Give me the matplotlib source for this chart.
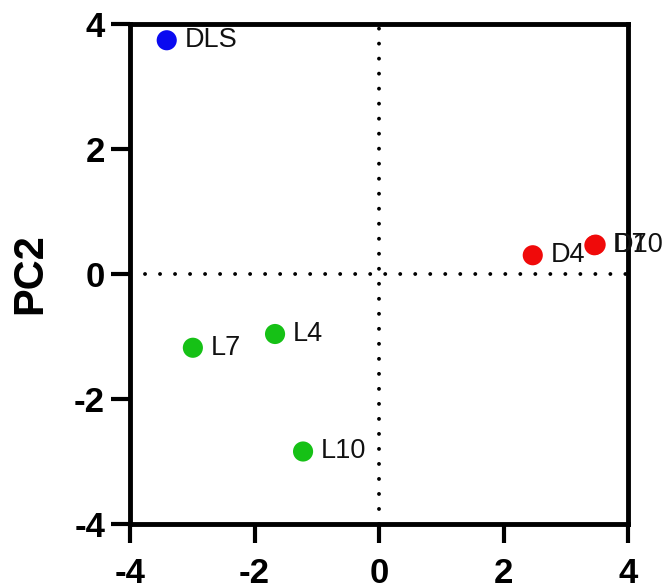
import matplotlib
matplotlib.use("Agg")
import matplotlib.pyplot as plt

plt.rcParams["font.family"] = ["Liberation Sans", "DejaVu Sans"]

# PCA scores
labels = ["DLS", "D4", "D7", "D10", "L7", "L4", "L10"]
pc1 = [-3.41, 2.47, 3.46, 3.48, -2.99, -1.67, -1.22]
pc2 = [3.74, 0.30, 0.46, 0.47, -1.18, -0.96, -2.84]
groups = ["DLS", "D", "D", "D", "L", "L", "L"]

group_colors = {"DLS": "#0a0af0", "D": "#f00a0a", "L": "#16c116"}

ticks = [-4, -2, 0, 2, 4]

fig = plt.figure(figsize=(6.65, 5.87), dpi=100)
ax = fig.add_axes([130 / 665, 1 - 524 / 587, 498 / 665, 500 / 587])

# dotted zero lines
dot_style = dict(color="black", linewidth=2.8, linestyle=(0, (0.01, 3.85)),
                 dash_capstyle="round", zorder=1)
ax.axhline(0, **dot_style)
ax.axvline(0, **dot_style)

for x, y, name, g in zip(pc1, pc2, labels, groups):
    ax.scatter(x, y, s=210, color=group_colors[g], edgecolors="none", zorder=3)
    ax.annotate(name, (x, y), xytext=(13, 0), textcoords="offset points",
                ha="left", va="center", fontsize=19.5, color="#111111",
                zorder=4, annotation_clip=False)

ax.set_xlim(-4, 4)
ax.set_ylim(-4, 4)
ax.set_xticks(ticks)
ax.set_yticks(ticks)
ax.set_xticklabels([str(t) for t in ticks])
ax.set_yticklabels([str(t) for t in ticks])

for sp in ax.spines.values():
    sp.set_linewidth(3.5)
    sp.set_color("black")

ax.tick_params(axis="both", length=14, width=3, direction="out", labelsize=25)
ax.tick_params(axis="x", pad=10)
ax.tick_params(axis="y", pad=4)
for lab in ax.get_xticklabels() + ax.get_yticklabels():
    lab.set_fontweight("bold")

ax.set_ylabel("PC2", fontsize=30, fontweight="bold")
ax.yaxis.set_label_coords(-0.16, 0.5)

fig.savefig("out.png", dpi=100)
